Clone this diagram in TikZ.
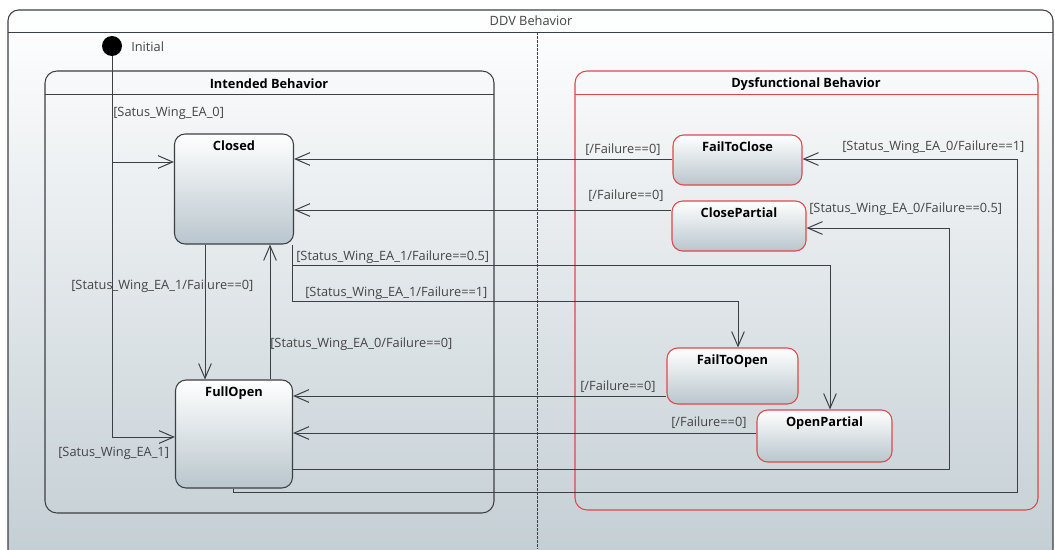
\documentclass[tikz,border=0pt]{standalone}
\usepackage{fontspec}
\setmainfont{Open Sans}
\usepackage{tikz}
\usetikzlibrary{arrows.meta,shapes}
\definecolor{linegray}{HTML}{3C4044}
\definecolor{textgray}{HTML}{444444}
\definecolor{faultred}{HTML}{E0474C}
\definecolor{stategray}{HTML}{B9C6CD}
\definecolor{bggray}{HTML}{C3CED4}
\tikzstyle{state}=[draw=linegray,line width=0.8pt,rounded corners=8pt,top color=white,bottom color=stategray,inner sep=0pt]
\tikzstyle{fault state}=[state,draw=faultred]
\tikzstyle{guard}=[anchor=west,inner sep=0pt,text=textgray,font=\fontsize{9.6}{11}\selectfont]
\tikzstyle{trans}=[draw=linegray,line width=0.75pt,-{Straight Barb[length=11pt,width=9.5pt,line width=0.75pt]}]

\begin{document}
\begin{tikzpicture}[x=0.75pt,y=-0.75pt]
    \useasboundingbox (0,0) rectangle (1055,549);
    \clip (0,0) rectangle (1055,549);
    % Frame of the whole machine
    \shade[top color=white,bottom color=bggray,draw=linegray,line width=0.8pt,rounded corners=8pt] (8,10) rectangle (1053,560);
    \draw[linegray,line width=0.6pt] (8,32) -- (1053,32);
    \node[text=textgray,font=\fontsize{9.6}{11}\selectfont] (ddv) at (531,21) {DDV Behavior};
    \draw[linegray,line width=0.6pt,dash pattern=on 2pt off 1pt] (537,32) -- (537,549);

    % The two regions
    \draw[linegray,line width=0.8pt,rounded corners=9pt] (45,71) rectangle (494,513);
    \draw[linegray,line width=0.5pt] (45,94) -- (494,94);
    \node[font=\fontsize{9.6}{11}\selectfont\bfseries] (intended) at (269,84) {Intended Behavior};
    \draw[faultred,line width=0.8pt,rounded corners=9pt] (575,71) rectangle (1038,510);
    \draw[faultred,line width=0.5pt] (575,94) -- (1038,94);
    \node[font=\fontsize{9.6}{11}\selectfont\bfseries] (dysfunctional) at (806,84) {Dysfunctional Behavior};

    % First we draw the states
    \node[circle,fill=black,minimum size=15pt,inner sep=0pt] (init) at (112,46) {};
    \node[guard] (initlabel) at (131,47) {Initial};
    \foreach \pos/\name/\w/\h in {{(234,189)/Closed/119/110}, {(234,434)/FullOpen/117/108}}
        \node[state,minimum width=\w*0.75pt,minimum height=\h*0.75pt,
              label={[anchor=north,inner sep=5pt,font=\fontsize{9.6}{11}\selectfont\bfseries]north:\name}] (\name) at \pos {};
    \foreach \pos/\name/\w/\h in {{(737.5,160)/FailToClose/129/50}, {(739,226)/ClosePartial/134/50}, {(732.5,376)/FailToOpen/131/56}, {(824.5,436)/OpenPartial/135/52}}
        \node[fault state,minimum width=\w*0.75pt,minimum height=\h*0.75pt,
              label={[anchor=north,inner sep=5pt,font=\fontsize{9.6}{11}\selectfont\bfseries]north:\name}] (\name) at \pos {};

    % Then the transitions
    \coordinate (fork0) at (112,162);
    \coordinate (fork1) at (112,437);
    \draw[trans] (init) -- (fork1) -- (FullOpen.west |- fork1);
    \draw[trans] (fork0) -- (Closed.west |- fork0);
    \draw[trans] (Closed.south -| 205,0) -- (FullOpen.north -| 205,0);
    \draw[trans] (FullOpen.north -| 270,0) -- (Closed.south -| 270,0);
    \draw[trans] (FailToClose.west |- 0,159) -- (Closed.east |- 0,159);
    \draw[trans] (ClosePartial.west |- 0,210) -- (Closed.east |- 0,210);
    \draw[trans] (Closed.south -| 292,0) -- (292,301) -- (738,301) -- (FailToOpen.north -| 738,0);
    \draw[trans] (292,265) -- (830,265) -- (OpenPartial.north -| 830,0);
    \draw[trans] (FailToOpen.west |- 0,396) -- (FullOpen.east |- 0,396);
    \draw[trans] (OpenPartial.west |- 0,433) -- (FullOpen.east |- 0,433);
    \draw[trans] (FullOpen.east |- 0,469) -- (949,469) -- (949,228) -- (ClosePartial.east |- 0,228);
    \draw[trans] (FullOpen.south -| 233,0) -- (233,492) -- (1017,492) -- (1017,159) -- (FailToClose.east |- 0,159);

    % Guards
    \foreach \pos/\name/\txt in {{(113,113)/g1/{[Satus\_Wing\_EA\_0]}}, {(58,453)/g2/{[Satus\_Wing\_EA\_1]}},
        {(71,286)/g3/{[Status\_Wing\_EA\_1/Failure==0]}}, {(270,344)/g4/{[Status\_Wing\_EA\_0/Failure==0]}},
        {(585,150)/g5/{[/Failure==0]}}, {(588,196)/g6/{[/Failure==0]}},
        {(296,257)/g7/{[Status\_Wing\_EA\_1/Failure==0.5]}}, {(305,293)/g8/{[Status\_Wing\_EA\_1/Failure==1]}},
        {(580,387)/g9/{[/Failure==0]}}, {(671,423)/g10/{[/Failure==0]}},
        {(809,209)/g11/{[Status\_Wing\_EA\_0/Failure==0.5]}}, {(842,147)/g12/{[Status\_Wing\_EA\_0/Failure==1]}}}
        \node[guard] (\name) at \pos {\txt};
\end{tikzpicture}
\end{document}
